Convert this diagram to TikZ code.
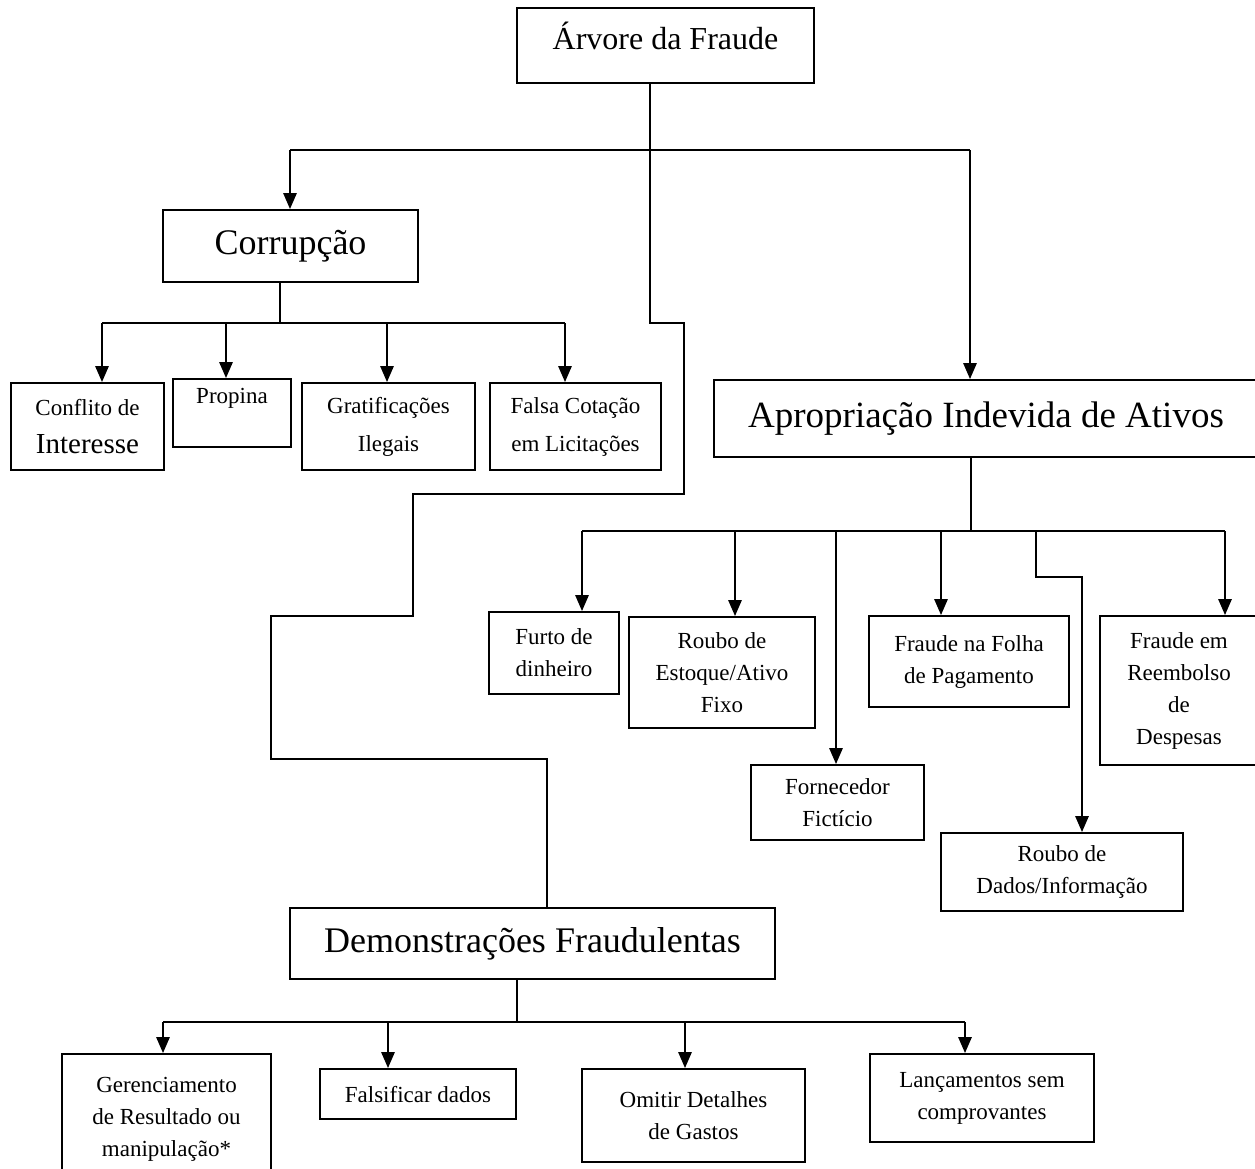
\documentclass[tikz,border=0pt]{standalone}
\usepackage{fontspec}
\setmainfont{Liberation Serif}
\usetikzlibrary{arrows.meta}

\begin{document}
\begin{tikzpicture}[x=1pt,y=-1pt]
	\tikzset{box/.style={draw,line width=1.7pt,align=center,inner sep=2pt,font=\fontsize{23}{32}\selectfont},
		big/.style={font=\fontsize{36}{40}\selectfont},
		wide/.style={font=\fontsize{23}{38}\selectfont},
		arr/.style={line width=2.6pt,-{Triangle[width=13pt,length=16pt]}},
		bar/.style={line width=2.6pt},
		stem/.style={line width=1.5pt}};
	\useasboundingbox (0,0) rectangle (1255,1168);
	% main boxes
	\node[box,minimum width=297pt,minimum height=75pt,font=\fontsize{32}{36}\selectfont,text height=24pt,text depth=17pt] (root) at (665.5,45.5) {Árvore da Fraude};
	\node[box,big,minimum width=255pt,minimum height=72pt] (corr) at (290.5,246) {Corrupção};
	\node[box,big,font=\fontsize{37}{40}\selectfont,minimum width=544pt,minimum height=77pt] (aprop) at (986,418.5) {Apropriação Indevida de Ativos};
	\node[box,big,minimum width=485pt,minimum height=71pt] (demo) at (532.5,943.5) {Demonstrações Fraudulentas};
	% corrupcao
	\node[box,wide,minimum width=153pt,minimum height=87pt] (confl) at (87.5,426.5) {Conflito de\\{\fontsize{29}{32}\selectfont Interesse}};
	\node[box,minimum width=118pt,minimum height=68pt,text height=16pt,text depth=36pt] (prop) at (232,413) {Propina};
	\node[box,wide,minimum width=173pt,minimum height=87pt] (grat) at (388.5,426.5) {Gratificações\\Ilegais};
	\node[box,wide,minimum width=171pt,minimum height=87pt] (cot) at (575.5,426.5) {Falsa Cotação\\em Licitações};
	% apropriacao
	\node[box,minimum width=130pt,minimum height=82pt] (furto) at (554,653) {Furto de\\dinheiro};
	\node[box,minimum width=186pt,minimum height=111pt] (estoq) at (722,672.5) {Roubo de\\Estoque/Ativo\\Fixo};
	\node[box,minimum width=173pt,minimum height=75pt] (forn) at (837.5,802.5) {Fornecedor\\Fictício};
	\node[box,minimum width=200pt,minimum height=91pt] (folha) at (969,661.5) {Fraude na Folha\\de Pagamento};
	\node[box,minimum width=242pt,minimum height=78pt] (dados) at (1062,872) {Roubo de\\Dados/Informação};
	\node[box,minimum width=158pt,minimum height=149pt] (reemb) at (1179,690.5) {Fraude em\\Reembolso\\de\\Despesas};
	% demonstracoes
	\node[box,minimum width=209pt,minimum height=131pt] (geren) at (166.5,1119.5) {Gerenciamento\\de Resultado ou\\manipulação*};
	\node[box,minimum width=196pt,minimum height=50pt] (falsif) at (418,1094) {Falsificar dados};
	\node[box,minimum width=223pt,minimum height=93pt] (omitir) at (693.5,1115.5) {Omitir Detalhes\\de Gastos};
	\node[box,minimum width=224pt,minimum height=88pt] (lanc) at (982,1098) {Lançamentos sem\\comprovantes};

	% root connectors
	\coordinate (rj) at (650,150);
	\coordinate (rl) at (290,150);
	\coordinate (rr) at (970,150);
	\draw[stem] (rj |- root.south) -- (rj);
	\draw[bar] (rl) -- (rr);
	\draw[arr] (rl) -- (rl |- corr.north);
	\draw[arr] (rr) -- (rr |- aprop.north);
	\coordinate (s8) at (547,759);
	\draw[line width=2pt] (rj) -- (650,323) -- (684,323) -- (684,494) -- (413,494) -- (413,616) -- (271,616) -- (271,759) -- (s8) -- (s8 |- demo.north);

	% corrupcao connectors
	\coordinate (cj) at (280,323);
	\coordinate (c1) at (102,323);
	\coordinate (c2) at (226,323);
	\coordinate (c3) at (387,323);
	\coordinate (c4) at (565,323);
	\draw[stem] (cj |- corr.south) -- (cj);
	\draw[bar] (c1) -- (c4);
	\foreach \c/\n in {c1/confl,c2/prop,c3/grat,c4/cot}
		\draw[arr] (\c) -- (\c |- \n.north);

	% apropriacao connectors
	\coordinate (aj) at (971,531);
	\coordinate (a1) at (582,531);
	\coordinate (a2) at (735,531);
	\coordinate (a3) at (836,531);
	\coordinate (a4) at (941,531);
	\coordinate (a5) at (1036,531);
	\coordinate (a6) at (1225,531);
	\coordinate (a5b) at (1082,577);
	\draw[stem] (aj |- aprop.south) -- (aj);
	\draw[bar] (a1) -- (a6);
	\foreach \c/\n in {a1/furto,a2/estoq,a3/forn,a4/folha,a6/reemb}
		\draw[arr] (\c) -- (\c |- \n.north);
	\draw[arr] (a5) |- (a5b) -- (a5b |- dados.north);

	% demonstracoes connectors
	\coordinate (dj) at (517,1022);
	\coordinate (d1) at (163,1022);
	\coordinate (d2) at (388,1022);
	\coordinate (d3) at (685,1022);
	\coordinate (d4) at (965,1022);
	\draw[stem] (dj |- demo.south) -- (dj);
	\draw[bar] (d1) -- (d4);
	\foreach \c/\n in {d1/geren,d2/falsif,d3/omitir,d4/lanc}
		\draw[arr] (\c) -- (\c |- \n.north);
\end{tikzpicture}
\end{document}
